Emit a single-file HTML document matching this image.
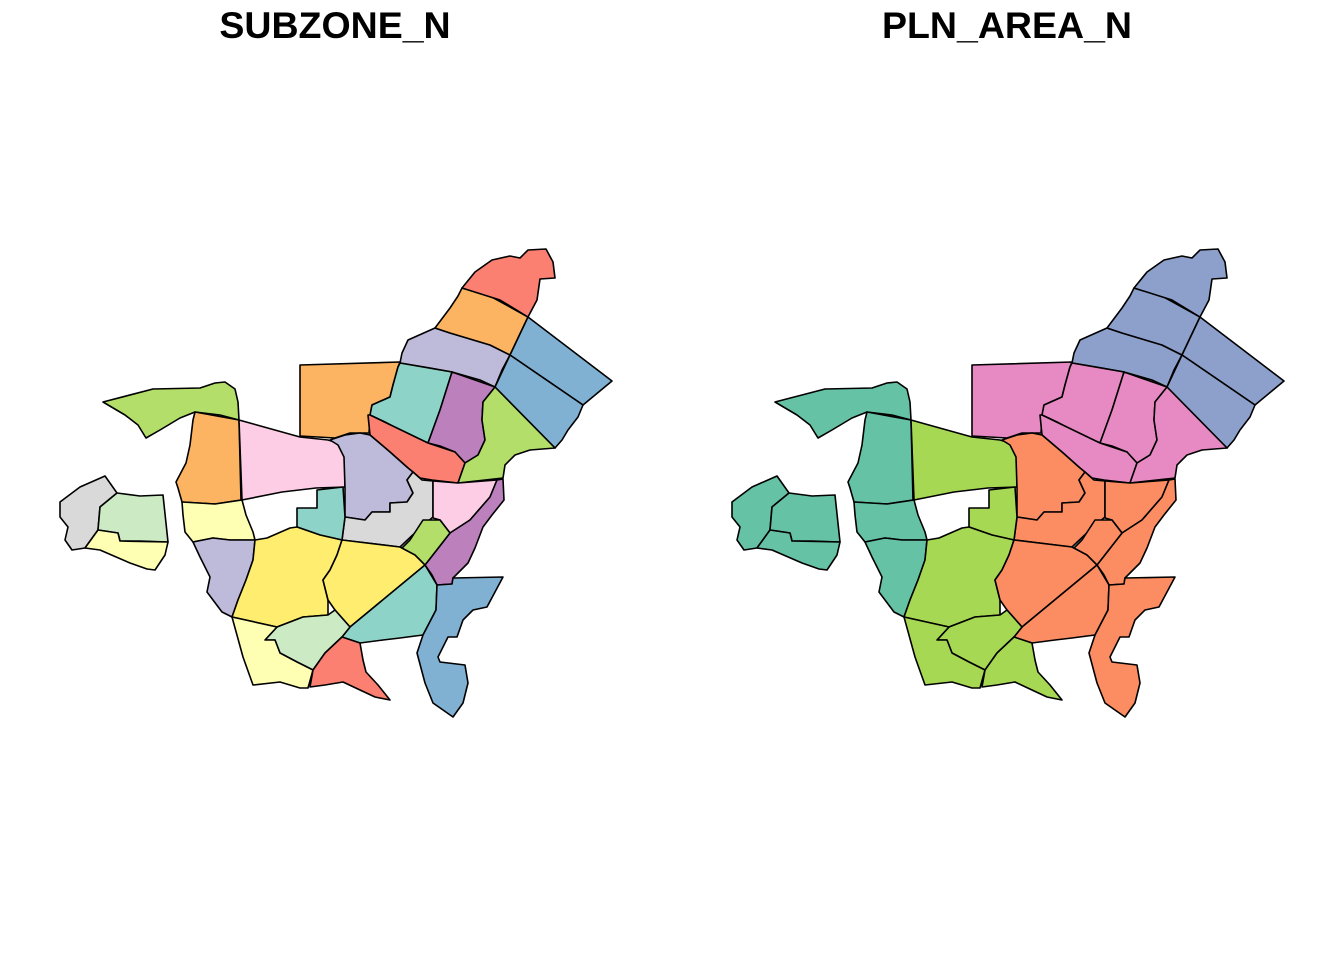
<!DOCTYPE html>
<html><head><meta charset="utf-8"><style>
body{margin:0;background:#fff;}
svg{display:block;}
text{font-family:"Liberation Sans",Arial,sans-serif;font-weight:bold;font-size:37.5px;}
</style></head><body>
<svg id="c" width="1344" height="960" viewBox="0 0 1344 960">
<text x="335" y="38" text-anchor="middle">SUBZONE_N</text>
<text x="1007" y="38" text-anchor="middle">PLN_AREA_N</text>
<g id="left"></g>
<g id="right" transform="translate(672,0)"></g>
</svg>
<script>
const regions = [
 ["nw-green","#b3de69","#66c2a5","103,402 153,389 200,388 215,383 225,382 235,389 238,402 239,420 220,415 195,412 180,418 160,430 146,438 138,425 125,415"],
 ["w-orange","#fdb462","#66c2a5","195,412 239,420 241,500 215,504 182,502 178,488 176,482 186,463 190,445 193,420"],
 ["pink","#fccde5","#a6d854","239,420 300,437 328,440 338,443 345,455 345,487 316,488 282,492 242,500"],
 ["c-orange","#fdb462","#e78ac3","300,365 400,362 398,367 393,385 390,397 372,405 370,416 369,433 350,433 335,438 300,436"],
 ["top-lavender","#bebada","#8da0cb","400,363 402,353 408,340 435,328 450,333 470,339 490,345 510,355 502,370 495,387 480,380 452,372 430,368"],
 ["top-orange","#fdb462","#8da0cb","435,328 450,308 458,296 462,288 490,296 528,317 510,355 490,345 470,339 450,333"],
 ["top-red","#fb8072","#8da0cb","462,288 475,272 492,260 510,256 520,258 528,250 546,249 553,262 555,278 540,279 537,300 528,317 500,300"],
 ["ne-blue-1","#80b1d3","#8da0cb","528,317 612,381 583,405 510,355"],
 ["ne-blue-2","#80b1d3","#8da0cb","510,355 583,405 578,417 568,430 562,440 555,448 495,387"],
 ["teal","#8dd3c7","#e78ac3","400,363 452,372 440,410 428,443 405,433 385,422 370,415 372,405 390,397 393,385 398,367"],
 ["purple","#bc80bd","#e78ac3","452,372 495,387 483,402 482,420 485,440 478,455 465,463 455,452 440,446 428,443 440,410"],
 ["mid-red","#fb8072","#e78ac3","370,415 428,443 455,452 465,463 458,483 432,480 420,478 408,468 390,452 370,435 368,415"],
 ["mid-green","#b3de69","#e78ac3","495,387 555,448 530,450 515,455 505,465 503,478 458,483 465,463 478,455 485,440 482,420 483,402"],
 ["mid-lavender","#bebada","#fc8d62","330,440 345,435 360,433 370,435 390,452 408,468 413,472 407,480 413,493 407,502 390,503 390,512 372,512 365,520 345,517 345,488 344,457 338,445"],
 ["mid-gray","#d9d9d9","#fc8d62","413,472 422,480 433,481 433,517 418,530 400,547 342,540 345,517 365,520 372,512 390,512 390,503 407,502 413,493 407,480"],
 ["e-pink","#fccde5","#fc8d62","433,481 458,483 497,480 490,497 470,520 450,533 440,520 433,518"],
 ["e-purple","#bc80bd","#fc8d62","497,480 503,479 504,500 492,515 483,527 475,548 468,563 453,578 452,584 437,585 432,575 425,565 450,533 470,520 490,497"],
 ["small-green","#b3de69","#fc8d62","423,520 440,520 450,533 425,565 402,548 410,540"],
 ["w-lightyellow","#ffffb3","#66c2a5","182,502 215,504 242,500 246,515 253,532 255,540 230,540 213,538 193,542 185,532 183,515"],
 ["small-teal","#8dd3c7","#a6d854","317,490 343,487 345,517 342,540 320,535 297,527 297,508 317,508"],
 ["sw-lavender","#bebada","#66c2a5","193,542 213,538 230,540 255,540 253,560 246,580 238,600 232,617 222,612 213,600 207,592 210,577 200,557"],
 ["yellow-left","#ffed6f","#a6d854","255,540 267,538 290,528 297,527 320,535 342,540 337,555 330,570 323,580 328,600 328,615 303,617 277,627 232,617 238,600 246,580 253,560"],
 ["yellow-right","#ffed6f","#fc8d62","342,540 400,547 415,555 425,565 350,627 335,610 328,600 323,580 330,570 337,555"],
 ["se-teal","#8dd3c7","#fc8d62","425,565 437,585 436,610 423,635 400,638 383,640 360,643 342,637 350,627"],
 ["s-lightgreen","#ccebc5","#a6d854","303,617 328,615 335,610 350,627 342,637 325,653 313,670 297,662 280,653 275,640 265,640 277,627"],
 ["s-lightyellow","#ffffb3","#a6d854","232,617 277,627 265,640 275,640 280,653 297,662 313,670 308,688 300,688 280,682 253,685 243,657"],
 ["s-red","#fb8072","#a6d854","342,637 360,643 363,660 366,672 378,685 390,700 375,697 360,690 343,682 325,685 310,687 313,670 325,653"],
 ["se-blue","#80b1d3","#fc8d62","437,585 452,584 453,578 503,577 487,607 473,610 463,620 457,637 448,637 438,657 440,662 465,665 468,683 463,703 453,717 433,703 425,683 417,653 423,635 436,610"],
 ["island-gray","#d9d9d9","#66c2a5","60,502 80,487 105,476 117,493 100,507 98,530 85,548 72,550 65,540 68,527 60,517"],
 ["island-green","#ccebc5","#66c2a5","117,493 140,496 163,495 168,542 140,541 120,541 118,533 98,530 100,507"],
 ["island-yellow","#ffffb3","#66c2a5","98,530 118,533 120,541 168,542 165,555 155,570 147,569 130,563 100,550 85,548"]
];
const NS="http://www.w3.org/2000/svg";
function draw(gid, ci){
  const g=document.getElementById(gid);
  regions.forEach(r=>{
    const p=document.createElementNS(NS,"polygon");
    p.setAttribute("points",r[3]);
    p.setAttribute("fill",r[ci]);
    p.setAttribute("stroke","#000");
    p.setAttribute("stroke-width","1.6");
    p.setAttribute("stroke-linejoin","round");
    
    
    g.appendChild(p);
  });
}
draw("left",1);
draw("right",2);
</script>
</body></html>
